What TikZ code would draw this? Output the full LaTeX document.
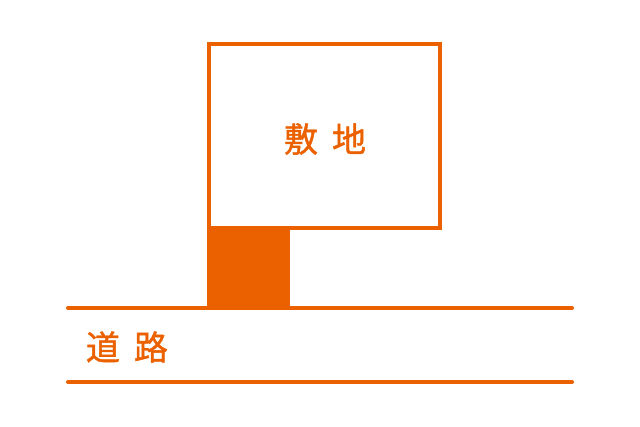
\documentclass[tikz,border=0pt]{standalone}
\usepackage{fontspec}
\newfontfamily\cjk[FakeBold=1.2]{Noto Sans CJK JP}
\definecolor{sitecol}{RGB}{235,97,0}
\begin{document}
\begin{tikzpicture}[x=1pt,y=-1pt,
  outline/.style={draw=sitecol,line width=4pt},
  roadline/.style={draw=sitecol,line width=4pt,line cap=round},
  label/.style={text=sitecol,font=\cjk\fontsize{34}{34}\selectfont,inner sep=0pt}]
\useasboundingbox (0,0) rectangle (640,426);
\draw[outline] (209,44) rectangle (440,228);
\fill[sitecol] (207,228) rectangle (290,308);
\coordinate (r1a) at (68,308);
\coordinate (r1b) at (572,308);
\coordinate (r2a) at (68,382);
\coordinate (r2b) at (572,382);
\draw[roadline] (r1a) -- (r1b);
\draw[roadline] (r2a) -- (r2b);
\node[label] (site) at (325,139) {敷\hspace{14pt}地};
\node[label] (road) at (127,347) {道\hspace{14pt}路};
\end{tikzpicture}
\end{document}
